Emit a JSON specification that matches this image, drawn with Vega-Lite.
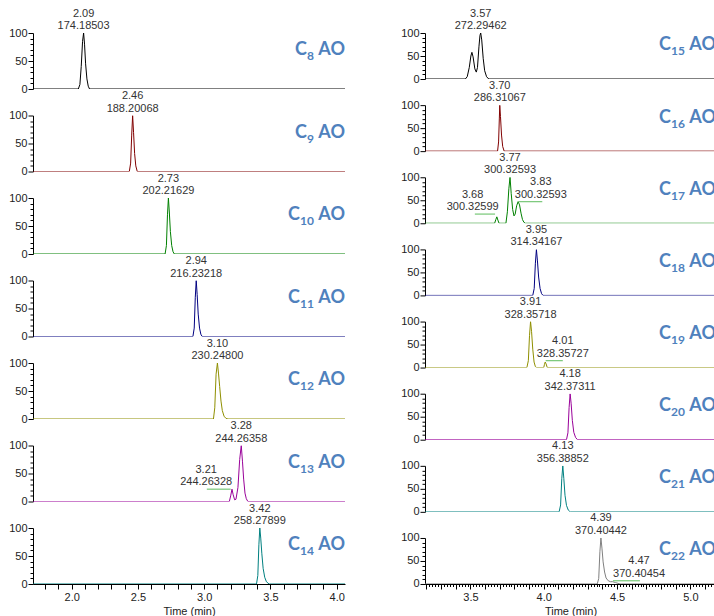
{
  "$schema": "https://vega.github.io/schema/vega-lite/v6.json",
  "padding": {"left": 8, "top": 7, "right": 0, "bottom": 0},
  "background": "white",
  "config": {
    "view": {"stroke": null},
    "axis": {"grid": false, "labelFont": "Liberation Sans", "labelFontSize": 11, "labelColor": "#222", "titleFont": "Liberation Sans", "titleFontSize": 11, "titleFontWeight": "normal", "titleColor": "#222", "domainColor": "#000", "tickColor": "#000", "labelPadding": 2, "titlePadding": 3, "labelOverlap": false, "labelFlush": false, "tickCount": 500}
  },
  "data": {"values": [
    {"col":"L","kind":"tr","n":8,"time":1.708,"ab":0},{"col":"L","kind":"tr","n":8,"time":2.05,"ab":0},{"col":"L","kind":"tr","n":8,"time":2.062,"ab":8},{"col":"L","kind":"tr","n":8,"time":2.072,"ab":40},{"col":"L","kind":"tr","n":8,"time":2.082,"ab":85},{"col":"L","kind":"tr","n":8,"time":2.09,"ab":100},{"col":"L","kind":"tr","n":8,"time":2.097,"ab":80},{"col":"L","kind":"tr","n":8,"time":2.105,"ab":45},{"col":"L","kind":"tr","n":8,"time":2.115,"ab":18},{"col":"L","kind":"tr","n":8,"time":2.125,"ab":5},{"col":"L","kind":"tr","n":8,"time":2.135,"ab":0},{"col":"L","kind":"tr","n":8,"time":4.063,"ab":0},
    {"col":"L","kind":"tr","n":9,"time":1.708,"ab":0},{"col":"L","kind":"tr","n":9,"time":2.435,"ab":0},{"col":"L","kind":"tr","n":9,"time":2.445,"ab":15},{"col":"L","kind":"tr","n":9,"time":2.453,"ab":65},{"col":"L","kind":"tr","n":9,"time":2.46,"ab":100},{"col":"L","kind":"tr","n":9,"time":2.467,"ab":70},{"col":"L","kind":"tr","n":9,"time":2.475,"ab":32},{"col":"L","kind":"tr","n":9,"time":2.484,"ab":10},{"col":"L","kind":"tr","n":9,"time":2.495,"ab":0},{"col":"L","kind":"tr","n":9,"time":4.063,"ab":0},
    {"col":"L","kind":"tr","n":10,"time":1.708,"ab":0},{"col":"L","kind":"tr","n":10,"time":2.705,"ab":0},{"col":"L","kind":"tr","n":10,"time":2.715,"ab":15},{"col":"L","kind":"tr","n":10,"time":2.723,"ab":70},{"col":"L","kind":"tr","n":10,"time":2.73,"ab":100},{"col":"L","kind":"tr","n":10,"time":2.737,"ab":75},{"col":"L","kind":"tr","n":10,"time":2.745,"ab":40},{"col":"L","kind":"tr","n":10,"time":2.755,"ab":15},{"col":"L","kind":"tr","n":10,"time":2.765,"ab":4},{"col":"L","kind":"tr","n":10,"time":2.775,"ab":0},{"col":"L","kind":"tr","n":10,"time":4.063,"ab":0},
    {"col":"L","kind":"tr","n":11,"time":1.708,"ab":0},{"col":"L","kind":"tr","n":11,"time":2.915,"ab":0},{"col":"L","kind":"tr","n":11,"time":2.925,"ab":15},{"col":"L","kind":"tr","n":11,"time":2.933,"ab":70},{"col":"L","kind":"tr","n":11,"time":2.94,"ab":100},{"col":"L","kind":"tr","n":11,"time":2.947,"ab":75},{"col":"L","kind":"tr","n":11,"time":2.955,"ab":40},{"col":"L","kind":"tr","n":11,"time":2.965,"ab":15},{"col":"L","kind":"tr","n":11,"time":2.975,"ab":4},{"col":"L","kind":"tr","n":11,"time":2.985,"ab":0},{"col":"L","kind":"tr","n":11,"time":4.063,"ab":0},
    {"col":"L","kind":"tr","n":12,"time":1.708,"ab":0},{"col":"L","kind":"tr","n":12,"time":3.07,"ab":0},{"col":"L","kind":"tr","n":12,"time":3.08,"ab":20},{"col":"L","kind":"tr","n":12,"time":3.09,"ab":80},{"col":"L","kind":"tr","n":12,"time":3.1,"ab":100},{"col":"L","kind":"tr","n":12,"time":3.108,"ab":82},{"col":"L","kind":"tr","n":12,"time":3.117,"ab":58},{"col":"L","kind":"tr","n":12,"time":3.127,"ab":32},{"col":"L","kind":"tr","n":12,"time":3.137,"ab":15},{"col":"L","kind":"tr","n":12,"time":3.15,"ab":5},{"col":"L","kind":"tr","n":12,"time":3.165,"ab":1},{"col":"L","kind":"tr","n":12,"time":3.18,"ab":0},{"col":"L","kind":"tr","n":12,"time":4.063,"ab":0},
    {"col":"L","kind":"tr","n":13,"time":1.708,"ab":0},{"col":"L","kind":"tr","n":13,"time":3.19,"ab":0},{"col":"L","kind":"tr","n":13,"time":3.2,"ab":10},{"col":"L","kind":"tr","n":13,"time":3.21,"ab":22},{"col":"L","kind":"tr","n":13,"time":3.219,"ab":12},{"col":"L","kind":"tr","n":13,"time":3.23,"ab":3},{"col":"L","kind":"tr","n":13,"time":3.24,"ab":4},{"col":"L","kind":"tr","n":13,"time":3.255,"ab":25},{"col":"L","kind":"tr","n":13,"time":3.268,"ab":75},{"col":"L","kind":"tr","n":13,"time":3.28,"ab":100},{"col":"L","kind":"tr","n":13,"time":3.289,"ab":72},{"col":"L","kind":"tr","n":13,"time":3.298,"ab":40},{"col":"L","kind":"tr","n":13,"time":3.308,"ab":15},{"col":"L","kind":"tr","n":13,"time":3.318,"ab":5},{"col":"L","kind":"tr","n":13,"time":3.33,"ab":0},{"col":"L","kind":"tr","n":13,"time":4.063,"ab":0},
    {"col":"L","kind":"tr","n":14,"time":1.708,"ab":0},{"col":"L","kind":"tr","n":14,"time":3.395,"ab":0},{"col":"L","kind":"tr","n":14,"time":3.405,"ab":15},{"col":"L","kind":"tr","n":14,"time":3.413,"ab":70},{"col":"L","kind":"tr","n":14,"time":3.42,"ab":100},{"col":"L","kind":"tr","n":14,"time":3.427,"ab":82},{"col":"L","kind":"tr","n":14,"time":3.435,"ab":55},{"col":"L","kind":"tr","n":14,"time":3.445,"ab":28},{"col":"L","kind":"tr","n":14,"time":3.457,"ab":12},{"col":"L","kind":"tr","n":14,"time":3.47,"ab":4},{"col":"L","kind":"tr","n":14,"time":3.49,"ab":0},{"col":"L","kind":"tr","n":14,"time":4.063,"ab":0},
    {"col":"R","kind":"tr","n":15,"time":3.19,"ab":0},{"col":"R","kind":"tr","n":15,"time":3.465,"ab":0},{"col":"R","kind":"tr","n":15,"time":3.478,"ab":5},{"col":"R","kind":"tr","n":15,"time":3.492,"ab":25},{"col":"R","kind":"tr","n":15,"time":3.503,"ab":50},{"col":"R","kind":"tr","n":15,"time":3.51,"ab":58},{"col":"R","kind":"tr","n":15,"time":3.518,"ab":48},{"col":"R","kind":"tr","n":15,"time":3.53,"ab":22},{"col":"R","kind":"tr","n":15,"time":3.54,"ab":15},{"col":"R","kind":"tr","n":15,"time":3.548,"ab":25},{"col":"R","kind":"tr","n":15,"time":3.558,"ab":70},{"col":"R","kind":"tr","n":15,"time":3.565,"ab":95},{"col":"R","kind":"tr","n":15,"time":3.57,"ab":100},{"col":"R","kind":"tr","n":15,"time":3.577,"ab":85},{"col":"R","kind":"tr","n":15,"time":3.587,"ab":45},{"col":"R","kind":"tr","n":15,"time":3.597,"ab":18},{"col":"R","kind":"tr","n":15,"time":3.61,"ab":5},{"col":"R","kind":"tr","n":15,"time":3.625,"ab":0},{"col":"R","kind":"tr","n":15,"time":5.175,"ab":0},
    {"col":"R","kind":"tr","n":16,"time":3.19,"ab":0},{"col":"R","kind":"tr","n":16,"time":3.685,"ab":0},{"col":"R","kind":"tr","n":16,"time":3.692,"ab":20},{"col":"R","kind":"tr","n":16,"time":3.697,"ab":70},{"col":"R","kind":"tr","n":16,"time":3.7,"ab":100},{"col":"R","kind":"tr","n":16,"time":3.705,"ab":75},{"col":"R","kind":"tr","n":16,"time":3.712,"ab":35},{"col":"R","kind":"tr","n":16,"time":3.72,"ab":10},{"col":"R","kind":"tr","n":16,"time":3.73,"ab":0},{"col":"R","kind":"tr","n":16,"time":5.175,"ab":0},
    {"col":"R","kind":"tr","n":17,"time":3.19,"ab":0},{"col":"R","kind":"tr","n":17,"time":3.665,"ab":0},{"col":"R","kind":"tr","n":17,"time":3.673,"ab":8},{"col":"R","kind":"tr","n":17,"time":3.68,"ab":14},{"col":"R","kind":"tr","n":17,"time":3.687,"ab":7},{"col":"R","kind":"tr","n":17,"time":3.695,"ab":0},{"col":"R","kind":"tr","n":17,"time":3.742,"ab":0},{"col":"R","kind":"tr","n":17,"time":3.752,"ab":25},{"col":"R","kind":"tr","n":17,"time":3.762,"ab":75},{"col":"R","kind":"tr","n":17,"time":3.77,"ab":100},{"col":"R","kind":"tr","n":17,"time":3.778,"ab":65},{"col":"R","kind":"tr","n":17,"time":3.788,"ab":30},{"col":"R","kind":"tr","n":17,"time":3.797,"ab":16},{"col":"R","kind":"tr","n":17,"time":3.805,"ab":20},{"col":"R","kind":"tr","n":17,"time":3.815,"ab":38},{"col":"R","kind":"tr","n":17,"time":3.825,"ab":47},{"col":"R","kind":"tr","n":17,"time":3.835,"ab":40},{"col":"R","kind":"tr","n":17,"time":3.845,"ab":22},{"col":"R","kind":"tr","n":17,"time":3.855,"ab":8},{"col":"R","kind":"tr","n":17,"time":3.865,"ab":2},{"col":"R","kind":"tr","n":17,"time":3.875,"ab":0},{"col":"R","kind":"tr","n":17,"time":5.175,"ab":0},
    {"col":"R","kind":"tr","n":18,"time":3.19,"ab":0},{"col":"R","kind":"tr","n":18,"time":3.925,"ab":0},{"col":"R","kind":"tr","n":18,"time":3.935,"ab":15},{"col":"R","kind":"tr","n":18,"time":3.943,"ab":70},{"col":"R","kind":"tr","n":18,"time":3.95,"ab":100},{"col":"R","kind":"tr","n":18,"time":3.957,"ab":75},{"col":"R","kind":"tr","n":18,"time":3.965,"ab":40},{"col":"R","kind":"tr","n":18,"time":3.975,"ab":15},{"col":"R","kind":"tr","n":18,"time":3.985,"ab":4},{"col":"R","kind":"tr","n":18,"time":3.995,"ab":0},{"col":"R","kind":"tr","n":18,"time":5.175,"ab":0},
    {"col":"R","kind":"tr","n":19,"time":3.19,"ab":0},{"col":"R","kind":"tr","n":19,"time":3.885,"ab":0},{"col":"R","kind":"tr","n":19,"time":3.895,"ab":15},{"col":"R","kind":"tr","n":19,"time":3.903,"ab":70},{"col":"R","kind":"tr","n":19,"time":3.91,"ab":100},{"col":"R","kind":"tr","n":19,"time":3.917,"ab":78},{"col":"R","kind":"tr","n":19,"time":3.925,"ab":40},{"col":"R","kind":"tr","n":19,"time":3.934,"ab":12},{"col":"R","kind":"tr","n":19,"time":3.943,"ab":2},{"col":"R","kind":"tr","n":19,"time":3.952,"ab":0},{"col":"R","kind":"tr","n":19,"time":4.0,"ab":0},{"col":"R","kind":"tr","n":19,"time":4.005,"ab":7},{"col":"R","kind":"tr","n":19,"time":4.01,"ab":12},{"col":"R","kind":"tr","n":19,"time":4.016,"ab":8},{"col":"R","kind":"tr","n":19,"time":4.024,"ab":0},{"col":"R","kind":"tr","n":19,"time":5.175,"ab":0},
    {"col":"R","kind":"tr","n":20,"time":3.19,"ab":0},{"col":"R","kind":"tr","n":20,"time":4.155,"ab":0},{"col":"R","kind":"tr","n":20,"time":4.165,"ab":15},{"col":"R","kind":"tr","n":20,"time":4.173,"ab":70},{"col":"R","kind":"tr","n":20,"time":4.18,"ab":100},{"col":"R","kind":"tr","n":20,"time":4.187,"ab":78},{"col":"R","kind":"tr","n":20,"time":4.195,"ab":42},{"col":"R","kind":"tr","n":20,"time":4.205,"ab":16},{"col":"R","kind":"tr","n":20,"time":4.217,"ab":5},{"col":"R","kind":"tr","n":20,"time":4.23,"ab":0},{"col":"R","kind":"tr","n":20,"time":5.175,"ab":0},
    {"col":"R","kind":"tr","n":21,"time":3.19,"ab":0},{"col":"R","kind":"tr","n":21,"time":4.105,"ab":0},{"col":"R","kind":"tr","n":21,"time":4.115,"ab":15},{"col":"R","kind":"tr","n":21,"time":4.123,"ab":72},{"col":"R","kind":"tr","n":21,"time":4.13,"ab":100},{"col":"R","kind":"tr","n":21,"time":4.137,"ab":72},{"col":"R","kind":"tr","n":21,"time":4.145,"ab":36},{"col":"R","kind":"tr","n":21,"time":4.155,"ab":14},{"col":"R","kind":"tr","n":21,"time":4.167,"ab":4},{"col":"R","kind":"tr","n":21,"time":4.18,"ab":0},{"col":"R","kind":"tr","n":21,"time":5.175,"ab":0},
    {"col":"R","kind":"tr","n":22,"time":3.19,"ab":0},{"col":"R","kind":"tr","n":22,"time":4.365,"ab":0},{"col":"R","kind":"tr","n":22,"time":4.375,"ab":12},{"col":"R","kind":"tr","n":22,"time":4.383,"ab":70},{"col":"R","kind":"tr","n":22,"time":4.39,"ab":100},{"col":"R","kind":"tr","n":22,"time":4.397,"ab":78},{"col":"R","kind":"tr","n":22,"time":4.405,"ab":48},{"col":"R","kind":"tr","n":22,"time":4.415,"ab":26},{"col":"R","kind":"tr","n":22,"time":4.425,"ab":13},{"col":"R","kind":"tr","n":22,"time":4.44,"ab":7},{"col":"R","kind":"tr","n":22,"time":4.455,"ab":5},{"col":"R","kind":"tr","n":22,"time":4.47,"ab":5},{"col":"R","kind":"tr","n":22,"time":4.49,"ab":3},{"col":"R","kind":"tr","n":22,"time":4.52,"ab":0},{"col":"R","kind":"tr","n":22,"time":5.175,"ab":0},
    {"col":"L","kind":"lab","n":8,"lx":2.09,"ly":100,"rt":"2.09","mz":"174.18503"},
    {"col":"L","kind":"lab","n":9,"lx":2.46,"ly":100,"rt":"2.46","mz":"188.20068"},
    {"col":"L","kind":"lab","n":10,"lx":2.73,"ly":100,"rt":"2.73","mz":"202.21629"},
    {"col":"L","kind":"lab","n":11,"lx":2.94,"ly":100,"rt":"2.94","mz":"216.23218"},
    {"col":"L","kind":"lab","n":12,"lx":3.1,"ly":100,"rt":"3.10","mz":"230.24800"},
    {"col":"L","kind":"lab","n":13,"lx":3.28,"ly":100,"rt":"3.28","mz":"244.26358"},
    {"col":"L","kind":"lab","n":13,"lx":3.015,"ly":22,"rt":"3.21","mz":"244.26328","cx1":3.02,"cx2":3.2},
    {"col":"L","kind":"lab","n":14,"lx":3.42,"ly":100,"rt":"3.42","mz":"258.27899"},
    {"col":"R","kind":"lab","n":15,"lx":3.57,"ly":100,"rt":"3.57","mz":"272.29462"},
    {"col":"R","kind":"lab","n":16,"lx":3.7,"ly":100,"rt":"3.70","mz":"286.31067"},
    {"col":"R","kind":"lab","n":17,"lx":3.77,"ly":100,"rt":"3.77","mz":"300.32593"},
    {"col":"R","kind":"lab","n":17,"lx":3.515,"ly":20,"rt":"3.68","mz":"300.32599","cx1":3.53,"cx2":3.668},
    {"col":"R","kind":"lab","n":17,"lx":3.98,"ly":47,"rt":"3.83","mz":"300.32593","cx1":3.825,"cx2":3.99},
    {"col":"R","kind":"lab","n":18,"lx":3.95,"ly":100,"rt":"3.95","mz":"314.34167"},
    {"col":"R","kind":"lab","n":19,"lx":3.91,"ly":100,"rt":"3.91","mz":"328.35718"},
    {"col":"R","kind":"lab","n":19,"lx":4.13,"ly":15,"rt":"4.01","mz":"328.35727","cx1":4.013,"cx2":4.13},
    {"col":"R","kind":"lab","n":20,"lx":4.18,"ly":100,"rt":"4.18","mz":"342.37311"},
    {"col":"R","kind":"lab","n":21,"lx":4.13,"ly":100,"rt":"4.13","mz":"356.38852"},
    {"col":"R","kind":"lab","n":22,"lx":4.39,"ly":100,"rt":"4.39","mz":"370.40442"},
    {"col":"R","kind":"lab","n":22,"lx":4.65,"ly":7,"rt":"4.47","mz":"370.40454","cx1":4.472,"cx2":4.656},
    {"col":"L","kind":"nm","n":8,"sub":"8"},{"col":"L","kind":"nm","n":9,"sub":"9"},{"col":"L","kind":"nm","n":10,"sub":"10"},{"col":"L","kind":"nm","n":11,"sub":"11"},{"col":"L","kind":"nm","n":12,"sub":"12"},{"col":"L","kind":"nm","n":13,"sub":"13"},{"col":"L","kind":"nm","n":14,"sub":"14"},
    {"col":"R","kind":"nm","n":15,"sub":"15"},{"col":"R","kind":"nm","n":16,"sub":"16"},{"col":"R","kind":"nm","n":17,"sub":"17"},{"col":"R","kind":"nm","n":18,"sub":"18"},{"col":"R","kind":"nm","n":19,"sub":"19"},{"col":"R","kind":"nm","n":20,"sub":"20"},{"col":"R","kind":"nm","n":21,"sub":"21"},{"col":"R","kind":"nm","n":22,"sub":"22"}
  ]},
  "spacing": 55,
  "resolve": {"scale": {"x": "independent", "y": "independent", "color": "independent"}, "axis": {"x": "independent", "y": "independent"}},
  "hconcat": [
    {
      "transform": [{"filter": "datum.col == 'L'"}],
      "bounds": "flush",
      "spacing": {"row": 26.5},
      "facet": {"row": {"field": "n", "type": "ordinal", "header": {"labels": false, "title": null}}},
      "spec": {
        "width": 312,
        "height": 56,
        "layer": [
          {
            "transform": [{"filter": "datum.kind == 'tr'"}],
            "mark": {"type": "line", "strokeWidth": 1, "clip": true},
            "encoding": {
              "x": {"field": "time", "type": "quantitative", "title": "Time (min)", "scale": {"domain": [1.708, 4.063], "nice": false, "zero": false},
                "axis": {"values": [1.8,1.9,2.0,2.1,2.2,2.3,2.4,2.5,2.6,2.7,2.8,2.9,3.0,3.1,3.2,3.3,3.4,3.5,3.6,3.7,3.8,3.9,4.0], "labelExpr": "abs(datum.value*2 - round(datum.value*2)) < 0.001 ? format(datum.value, '.1f') : ''", "tickSize": 5, "tickCount": 500, "labelFlush": false, "labelOverlap": false}},
              "y": {"field": "ab", "type": "quantitative", "title": null, "scale": {"domain": [0, 100], "nice": false},
                "axis": {"values": [0,10,20,30,40,50,60,70,80,90,100], "tickCount": 500, "labelExpr": "datum.value % 50 == 0 ? format(datum.value, 'd') : ''", "tickSize": {"condition": {"test": "datum.value % 50 == 0", "value": 5}, "value": 3}, "labelFlush": false, "labelOverlap": false, "labelPadding": 1}},
              "color": {"field": "n", "type": "nominal", "legend": null, "scale": {"domain": [8,9,10,11,12,13,14,15,16,17,18,19,20,21,22], "range": ["#000000","#800000","#008000","#000080","#8f8f00","#990099","#008080","#000000","#800000","#008000","#000080","#8f8f00","#990099","#008080","#808080"]}}
            }
          },
          {
            "transform": [{"filter": "datum.kind == 'lab' && isValid(datum.cx1)"}],
            "mark": {"type": "rule", "color": "#77c777", "strokeWidth": 1.2},
            "encoding": {
              "x": {"field": "cx1", "type": "quantitative", "title": "Time (min)", "scale": {"domain": [1.708, 4.063], "nice": false, "zero": false}},
              "x2": {"field": "cx2"},
              "y": {"field": "ly", "type": "quantitative", "title": null, "scale": {"domain": [0, 100], "nice": false}}
            }
          },
          {
            "transform": [{"filter": "datum.kind == 'lab'"}],
            "mark": {"type": "text", "font": "Liberation Sans", "fontSize": 11, "color": "#333", "baseline": "alphabetic", "dy": -16.5},
            "encoding": {
              "x": {"field": "lx", "type": "quantitative", "title": "Time (min)", "scale": {"domain": [1.708, 4.063], "nice": false, "zero": false}},
              "y": {"field": "ly", "type": "quantitative", "title": null, "scale": {"domain": [0, 100], "nice": false}},
              "text": {"field": "rt"}
            }
          },
          {
            "transform": [{"filter": "datum.kind == 'lab'"}],
            "mark": {"type": "text", "font": "Liberation Sans", "fontSize": 11, "color": "#333", "baseline": "alphabetic", "dy": -4},
            "encoding": {
              "x": {"field": "lx", "type": "quantitative", "title": "Time (min)", "scale": {"domain": [1.708, 4.063], "nice": false, "zero": false}},
              "y": {"field": "ly", "type": "quantitative", "title": null, "scale": {"domain": [0, 100], "nice": false}},
              "text": {"field": "mz"}
            }
          },
          {
            "transform": [{"filter": "datum.kind == 'nm'"}],
            "mark": {"type": "text", "text": "AO", "font": "Lato", "fontWeight": "bold", "fontSize": 18, "color": "#4F81BD", "align": "right", "baseline": "alphabetic"},
            "encoding": {
              "x": {"datum": 4.063, "type": "quantitative", "title": "Time (min)", "scale": {"domain": [1.708, 4.063], "nice": false, "zero": false}},
              "y": {"datum": 60, "type": "quantitative", "title": null, "scale": {"domain": [0, 100], "nice": false}}
            }
          },
          {
            "transform": [{"filter": "datum.kind == 'nm'"}],
            "mark": {"type": "text", "font": "Lato", "fontWeight": "bold", "fontSize": 12, "color": "#4F81BD", "align": "right", "baseline": "alphabetic", "dx": -31, "dy": 5},
            "encoding": {
              "x": {"datum": 4.063, "type": "quantitative", "title": "Time (min)", "scale": {"domain": [1.708, 4.063], "nice": false, "zero": false}},
              "y": {"datum": 60, "type": "quantitative", "title": null, "scale": {"domain": [0, 100], "nice": false}},
              "text": {"field": "sub"}
            }
          },
          {
            "transform": [{"filter": "datum.kind == 'nm' && length(datum.sub) == 1"}],
            "mark": {"type": "text", "text": "C", "font": "Lato", "fontWeight": "bold", "fontSize": 18, "color": "#4F81BD", "align": "right", "baseline": "alphabetic", "dx": -38},
            "encoding": {
              "x": {"datum": 4.063, "type": "quantitative", "title": "Time (min)", "scale": {"domain": [1.708, 4.063], "nice": false, "zero": false}},
              "y": {"datum": 60, "type": "quantitative", "title": null, "scale": {"domain": [0, 100], "nice": false}}
            }
          },
          {
            "transform": [{"filter": "datum.kind == 'nm' && length(datum.sub) == 2"}],
            "mark": {"type": "text", "text": "C", "font": "Lato", "fontWeight": "bold", "fontSize": 18, "color": "#4F81BD", "align": "right", "baseline": "alphabetic", "dx": -45},
            "encoding": {
              "x": {"datum": 4.063, "type": "quantitative", "title": "Time (min)", "scale": {"domain": [1.708, 4.063], "nice": false, "zero": false}},
              "y": {"datum": 60, "type": "quantitative", "title": null, "scale": {"domain": [0, 100], "nice": false}}
            }
          }
        ]
      }
    },
    {
      "transform": [{"filter": "datum.col == 'R'"}],
      "bounds": "flush",
      "spacing": {"row": 26.14},
      "facet": {"row": {"field": "n", "type": "ordinal", "header": {"labels": false, "title": null}}},
      "spec": {
        "width": 291,
        "height": 46,
        "layer": [
          {
            "transform": [{"filter": "datum.kind == 'tr'"}],
            "mark": {"type": "line", "strokeWidth": 1, "clip": true},
            "encoding": {
              "x": {"field": "time", "type": "quantitative", "title": "Time (min)", "scale": {"domain": [3.19, 5.175], "nice": false, "zero": false},
                "axis": {"values": [3.2,3.22,3.24,3.26,3.28,3.3,3.32,3.34,3.36,3.38,3.4,3.42,3.44,3.46,3.48,3.5,3.52,3.54,3.56,3.58,3.6,3.62,3.64,3.66,3.68,3.7,3.72,3.74,3.76,3.78,3.8,3.82,3.84,3.86,3.88,3.9,3.92,3.94,3.96,3.98,4.0,4.02,4.04,4.06,4.08,4.1,4.12,4.14,4.16,4.18,4.2,4.22,4.24,4.26,4.28,4.3,4.32,4.34,4.36,4.38,4.4,4.42,4.44,4.46,4.48,4.5,4.52,4.54,4.56,4.58,4.6,4.62,4.64,4.66,4.68,4.7,4.72,4.74,4.76,4.78,4.8,4.82,4.84,4.86,4.88,4.9,4.92,4.94,4.96,4.98,5.0,5.02,5.04,5.06,5.08,5.1,5.12,5.14,5.16], "tickCount": 500, "labelExpr": "abs(datum.value*2 - round(datum.value*2)) < 0.001 ? format(datum.value, '.1f') : ''", "tickSize": {"condition": {"test": "abs(datum.value*10 - round(datum.value*10)) < 0.001", "value": 5}, "value": 2.5}, "labelFlush": false, "labelOverlap": false}},
              "y": {"field": "ab", "type": "quantitative", "title": null, "scale": {"domain": [0, 100], "nice": false},
                "axis": {"values": [0,10,20,30,40,50,60,70,80,90,100], "tickCount": 500, "labelExpr": "datum.value % 50 == 0 ? format(datum.value, 'd') : ''", "tickSize": {"condition": {"test": "datum.value % 50 == 0", "value": 5}, "value": 3}, "labelFlush": false, "labelOverlap": false, "labelPadding": 1}},
              "color": {"field": "n", "type": "nominal", "legend": null, "scale": {"domain": [8,9,10,11,12,13,14,15,16,17,18,19,20,21,22], "range": ["#000000","#800000","#008000","#000080","#8f8f00","#990099","#008080","#000000","#800000","#008000","#000080","#8f8f00","#990099","#008080","#808080"]}}
            }
          },
          {
            "transform": [{"filter": "datum.kind == 'lab' && isValid(datum.cx1)"}],
            "mark": {"type": "rule", "color": "#77c777", "strokeWidth": 1.2},
            "encoding": {
              "x": {"field": "cx1", "type": "quantitative", "title": "Time (min)", "scale": {"domain": [3.19, 5.175], "nice": false, "zero": false}},
              "x2": {"field": "cx2"},
              "y": {"field": "ly", "type": "quantitative", "title": null, "scale": {"domain": [0, 100], "nice": false}}
            }
          },
          {
            "transform": [{"filter": "datum.kind == 'lab'"}],
            "mark": {"type": "text", "font": "Liberation Sans", "fontSize": 11, "color": "#333", "baseline": "alphabetic", "dy": -16.5},
            "encoding": {
              "x": {"field": "lx", "type": "quantitative", "title": "Time (min)", "scale": {"domain": [3.19, 5.175], "nice": false, "zero": false}},
              "y": {"field": "ly", "type": "quantitative", "title": null, "scale": {"domain": [0, 100], "nice": false}},
              "text": {"field": "rt"}
            }
          },
          {
            "transform": [{"filter": "datum.kind == 'lab'"}],
            "mark": {"type": "text", "font": "Liberation Sans", "fontSize": 11, "color": "#333", "baseline": "alphabetic", "dy": -4},
            "encoding": {
              "x": {"field": "lx", "type": "quantitative", "title": "Time (min)", "scale": {"domain": [3.19, 5.175], "nice": false, "zero": false}},
              "y": {"field": "ly", "type": "quantitative", "title": null, "scale": {"domain": [0, 100], "nice": false}},
              "text": {"field": "mz"}
            }
          },
          {
            "transform": [{"filter": "datum.kind == 'nm'"}],
            "mark": {"type": "text", "text": "AO", "font": "Lato", "fontWeight": "bold", "fontSize": 18, "color": "#4F81BD", "align": "right", "baseline": "alphabetic"},
            "encoding": {
              "x": {"datum": 5.175, "type": "quantitative", "title": "Time (min)", "scale": {"domain": [3.19, 5.175], "nice": false, "zero": false}},
              "y": {"datum": 62, "type": "quantitative", "title": null, "scale": {"domain": [0, 100], "nice": false}}
            }
          },
          {
            "transform": [{"filter": "datum.kind == 'nm'"}],
            "mark": {"type": "text", "font": "Lato", "fontWeight": "bold", "fontSize": 12, "color": "#4F81BD", "align": "right", "baseline": "alphabetic", "dx": -31, "dy": 5},
            "encoding": {
              "x": {"datum": 5.175, "type": "quantitative", "title": "Time (min)", "scale": {"domain": [3.19, 5.175], "nice": false, "zero": false}},
              "y": {"datum": 62, "type": "quantitative", "title": null, "scale": {"domain": [0, 100], "nice": false}},
              "text": {"field": "sub"}
            }
          },
          {
            "transform": [{"filter": "datum.kind == 'nm'"}],
            "mark": {"type": "text", "text": "C", "font": "Lato", "fontWeight": "bold", "fontSize": 18, "color": "#4F81BD", "align": "right", "baseline": "alphabetic", "dx": -45},
            "encoding": {
              "x": {"datum": 5.175, "type": "quantitative", "title": "Time (min)", "scale": {"domain": [3.19, 5.175], "nice": false, "zero": false}},
              "y": {"datum": 62, "type": "quantitative", "title": null, "scale": {"domain": [0, 100], "nice": false}}
            }
          }
        ]
      }
    }
  ]
}
